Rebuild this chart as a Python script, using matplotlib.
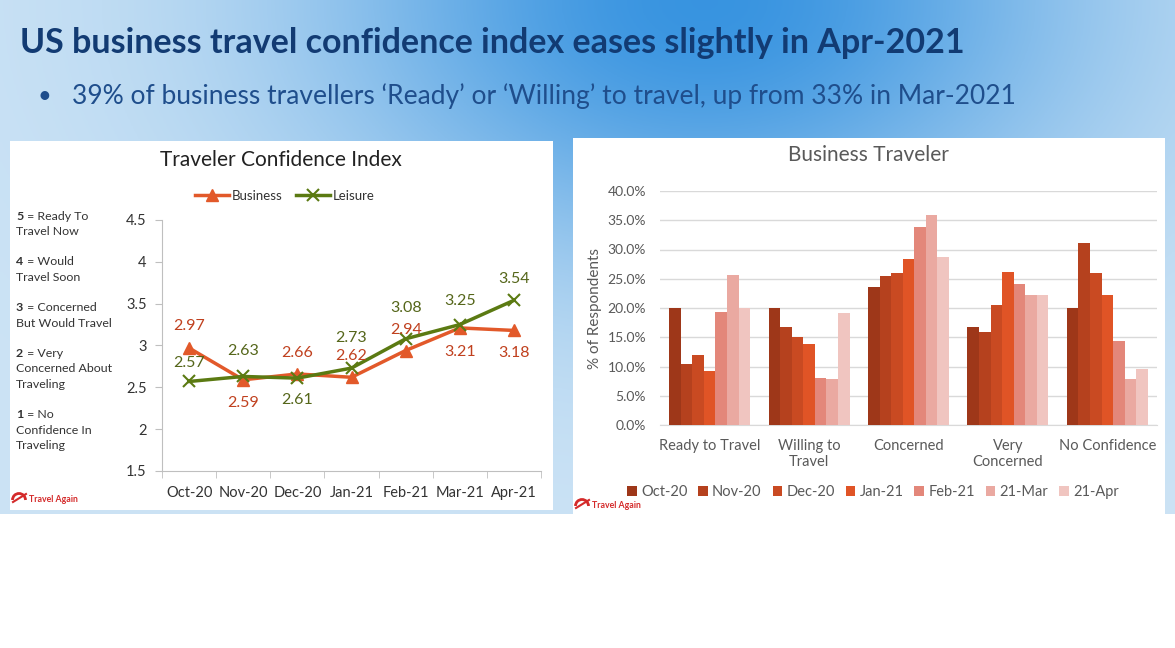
import matplotlib.pyplot as plt
import numpy as np
from matplotlib.patches import Rectangle, Arc

# ---------------- Data ----------------
months = ['Oct-20', 'Nov-20', 'Dec-20', 'Jan-21', 'Feb-21', 'Mar-21', 'Apr-21']
business = [2.97, 2.59, 2.66, 2.62, 2.94, 3.21, 3.18]
leisure = [2.57, 2.63, 2.61, 2.73, 3.08, 3.25, 3.54]

scale_notes = [('5', 'Ready To\nTravel Now'),
               ('4', 'Would\nTravel Soon'),
               ('3', 'Concerned\nBut Would Travel'),
               ('2', 'Very\nConcerned About\nTraveling'),
               ('1', 'No\nConfidence In\nTraveling')]

categories = ['Ready to Travel', 'Willing to\nTravel', 'Concerned', 'Very\nConcerned', 'No Confidence']
periods = ['Oct-20', 'Nov-20', 'Dec-20', 'Jan-21', 'Feb-21', '21-Mar', '21-Apr']
# % of respondents, one row per period, columns follow categories
shares = np.array([
    [20.0, 20.0, 23.6, 16.7, 20.0],
    [10.4, 16.7, 25.5, 15.9, 31.1],
    [11.9, 15.0, 26.0, 20.5, 26.0],
    [9.2, 13.8, 28.4, 26.1, 22.2],
    [19.3, 8.0, 33.8, 24.1, 14.4],
    [25.6, 7.9, 35.9, 22.2, 7.9],
    [20.0, 19.1, 28.7, 22.2, 9.5],
])

title = 'US business travel confidence index eases slightly in Apr-2021'
bullet = '39% of business travellers \u2018Ready\u2019 or \u2018Willing\u2019 to travel, up from 33% in Mar-2021'

# ---------------- Figure / background ----------------
W, H = 1175, 648
fig = plt.figure(figsize=(W / 100, H / 100), dpi=100)
plt.rcParams['font.family'] = ['Lato', 'DejaVu Sans']


def fig_rect(x0, y0, x1, y1):
    return [x0 / W, 1 - y1 / H, (x1 - x0) / W, (y1 - y0) / H]


bg = fig.add_axes([0, 0, 1, 1])
bg.set_xlim(0, W)
bg.set_ylim(H, 0)
bg.axis('off')

# sky gradient
gy, gx = np.mgrid[0:1:200j, 0:1:360j]
t = np.exp(-((gx - 0.6) / 0.33) ** 2 - (gy / 0.5) ** 2)
light = np.array([0.80, 0.89, 0.96])
deep = np.array([0.22, 0.58, 0.88])
sky = light[None, None, :] * (1 - t[..., None]) + deep[None, None, :] * t[..., None]
bg.imshow(sky, extent=[0, W, 514, 0], aspect='auto', zorder=0)

bg.text(20, 43, title, fontsize=24.5, fontweight='bold', color='#123B73',
        va='center', ha='left')
bg.text(38, 96, '\u2022', fontsize=17, color='#1F4E8C', va='center', ha='left')
bg.text(72, 96, bullet, fontsize=19, color='#1F4E8C', va='center', ha='left')

# white panels
bg.add_patch(Rectangle((10, 141), 543, 369, facecolor='white', edgecolor='none', zorder=1))
bg.add_patch(Rectangle((573, 138), 592, 376, facecolor='white', edgecolor='none', zorder=1))


def logo(x, y):
    bg.add_patch(Arc((x, y), 13, 13, theta1=180, theta2=360, color='#D42A2A', lw=2, zorder=2))
    bg.plot([x - 6, x + 7], [y + 2, y - 6], color='#D42A2A', lw=1.5, zorder=2)
    bg.text(x + 10, y, 'Travel Again', fontsize=6.3, fontweight='bold', color='#D42A2A',
            va='center', ha='left', zorder=2)


logo(19, 500)
logo(582, 506)

# ---------------- Left chart: Traveler Confidence Index ----------------
bg.text(281, 160, 'Traveler Confidence Index', fontsize=15, color='#222222',
        ha='center', va='center', zorder=2)

line_y = 216
for num, desc in scale_notes:
    lines = desc.split('\n')
    bg.text(16, line_y, num, fontsize=8.9, fontweight='bold', color='#333333',
            va='center', ha='left', zorder=2)
    bg.text(24, line_y, ' = ' + lines[0], fontsize=8.9, color='#333333',
            va='center', ha='left', zorder=2)
    for k, ln in enumerate(lines[1:], start=1):
        bg.text(16, line_y + 15.3 * k, ln, fontsize=8.9, color='#333333',
                va='center', ha='left', zorder=2)
    line_y += 15.3 * len(lines) + 15.3

ax1 = fig.add_axes(fig_rect(162, 220, 541, 471))
x = np.arange(len(months))
biz_col = '#E2592A'
lei_col = '#5B7A12'
ax1.plot(x, business, color=biz_col, lw=2.5, marker='^', ms=8, label='Business', zorder=3)
ax1.plot(x, leisure, color=lei_col, lw=2.5, marker='x', ms=9, mew=1.5, label='Leisure', zorder=3)
ax1.set_xlim(-0.5, len(months) - 0.5)
ax1.set_ylim(1.5, 4.5)
ax1.set_yticks([1.5, 2, 2.5, 3, 3.5, 4, 4.5])
ax1.set_yticklabels(['1.5', '2', '2.5', '3', '3.5', '4', '4.5'])
ax1.set_xticks(x)
ax1.set_xticklabels(months)
ax1.set_xticks(np.arange(-0.5, len(months)), minor=True)
ax1.tick_params(axis='x', which='major', length=0, pad=11, labelsize=10.5, labelcolor='#333333')
ax1.tick_params(axis='x', which='minor', length=5, color='#BFBFBF')
ax1.tick_params(axis='y', length=5, color='#BFBFBF', pad=6, labelsize=10.5, labelcolor='#333333')
for s in ['top', 'right']:
    ax1.spines[s].set_visible(False)
for s in ['left', 'bottom']:
    ax1.spines[s].set_color('#BFBFBF')

biz_pos = ['a', 'b', 'a', 'a', 'a', 'b', 'b']
biz_off = [16, 17, 15, 15, 15, 17, 16]
lei_pos = ['a', 'a', 'b', 'a', 'a', 'a', 'a']
lei_off = [13, 18, 16, 22, 22, 17, 15]
for i in range(len(months)):
    d = 1 if biz_pos[i] == 'a' else -1
    ax1.annotate(f'{business[i]:.2f}', (x[i], business[i]), xytext=(0, d * biz_off[i]),
                 textcoords='offset points', ha='center', va='center',
                 fontsize=11.5, color='#C0401E')
    d = 1 if lei_pos[i] == 'a' else -1
    ax1.annotate(f'{leisure[i]:.2f}', (x[i], leisure[i]), xytext=(0, d * lei_off[i]),
                 textcoords='offset points', ha='center', va='center',
                 fontsize=11.5, color='#55661A')

ax1.legend(loc='center', bbox_to_anchor=(285 / W, 1 - 196 / H), bbox_transform=fig.transFigure,
           ncol=2, frameon=False, fontsize=9.5, handlelength=2.6, handletextpad=0.2,
           columnspacing=1.0, labelcolor='#333333')

# ---------------- Right chart: Business Traveler ----------------
bg.text(868, 155, 'Business Traveler', fontsize=15, color='#595959',
        ha='center', va='center', zorder=2)

ax2 = fig.add_axes(fig_rect(660, 191, 1157, 425))
bar_colors = ['#9E3719', '#B5411E', '#C94A22', '#E05426', '#E3877A', '#EAA9A1', '#F0C5C0']
n = len(periods)
bw = 0.815 / n
cx = np.arange(len(categories))
for j in range(n):
    ax2.bar(cx - 0.815 / 2 + bw * (j + 0.5), shares[j], width=bw, color=bar_colors[j],
            label=periods[j], zorder=3)
ax2.set_xlim(-0.5, len(categories) - 0.5)
ax2.set_ylim(0, 40)
ax2.set_yticks(np.arange(0, 41, 5))
ax2.set_yticklabels([f'{v:.1f}%' for v in np.arange(0, 41, 5)])
ax2.yaxis.grid(True, color='#D9D9D9', lw=1)
ax2.set_axisbelow(True)
ax2.set_xticks(cx)
ax2.set_xticklabels(categories, linespacing=1.15, va='top')
ax2.tick_params(axis='x', length=0, pad=10, labelsize=10.5, labelcolor='#595959')
ax2.tick_params(axis='y', length=0, pad=10, labelsize=10, labelcolor='#595959')
for s in ['top', 'right', 'left']:
    ax2.spines[s].set_visible(False)
ax2.spines['bottom'].set_color('#D9D9D9')
ax2.set_ylabel('% of Respondents', fontsize=11, color='#595959', labelpad=4)

ax2.legend(loc='center', bbox_to_anchor=(873 / W, 1 - 492 / H), bbox_transform=fig.transFigure,
           ncol=n, frameon=False, fontsize=10.5, handlelength=0.65, handleheight=0.65,
           handletextpad=0.3, columnspacing=0.75, labelcolor='#595959')

fig.savefig('out.png', dpi=100)
